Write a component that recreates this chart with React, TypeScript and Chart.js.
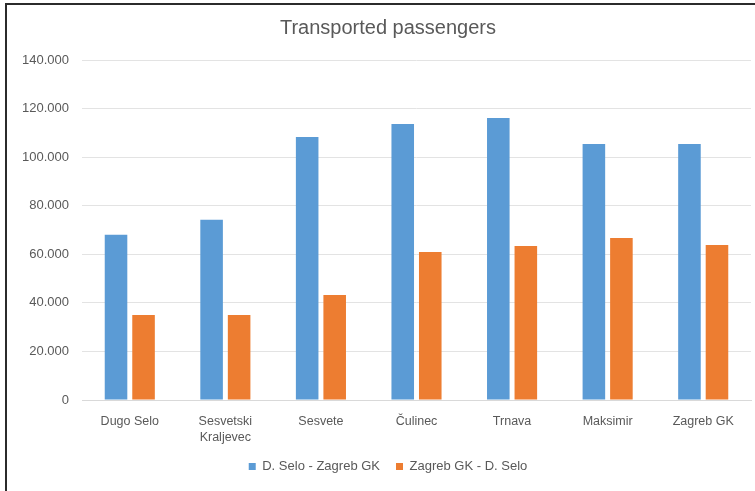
import React, { useEffect, useRef } from "react";
import { Chart, registerables } from "chart.js";

Chart.register(...registerables);

const TITLE = "Transported passengers";
const STATIONS: (string | string[])[] = [
  "Dugo Selo",
  ["Sesvetski", "Kraljevec"],
  "Sesvete",
  "Čulinec",
  "Trnava",
  "Maksimir",
  "Zagreb GK",
];
const SERIES_NAMES = ["D. Selo - Zagreb GK", "Zagreb GK - D. Selo"];
const TO_ZAGREB = [68000, 74200, 108300, 113600, 116100, 105400, 105400];
const FROM_ZAGREB = [35000, 35000, 43200, 60900, 63400, 66700, 63800];
const Y_MIN = 0;
const Y_MAX = 140000;
const Y_STEP = 20000;

const FONT = "'Liberation Sans', Arial, sans-serif";
const TEXT = "#595959";

function fmt(v: number): string {
  return String(v).replace(/\B(?=(\d{3})+(?!\d))/g, ".");
}

const centerShift = {
  id: "centerShift",
  afterLayout(chart: any) {
    const d = 7;
    if (chart.titleBlock) {
      chart.titleBlock.left += d;
      chart.titleBlock.right += d;
    }
    if (chart.legend) {
      chart.legend.left += d;
      chart.legend.right += d;
    }
  },
};

export default function App() {
  const ref = useRef<HTMLCanvasElement | null>(null);

  useEffect(() => {
    if (!ref.current) return;
    const chart = new Chart(ref.current, {
      type: "bar",
      data: {
        labels: STATIONS,
        datasets: [
          {
            label: SERIES_NAMES[0],
            data: TO_ZAGREB,
            backgroundColor: "#5B9BD5",
            categoryPercentage: 0.576,
            barPercentage: 0.82,
          },
          {
            label: SERIES_NAMES[1],
            data: FROM_ZAGREB,
            backgroundColor: "#ED7D31",
            categoryPercentage: 0.576,
            barPercentage: 0.82,
          },
        ],
      },
      plugins: [centerShift],
      options: {
        responsive: false,
        animation: false,
        layout: { padding: { left: 4, right: 18, top: 0, bottom: 8 } },
        plugins: {
          title: {
            display: true,
            text: TITLE,
            color: TEXT,
            font: { family: FONT, size: 20, weight: "normal", lineHeight: 1.2 },
            padding: { top: 11, bottom: 20 },
          },
          legend: {
            position: "bottom",
            labels: {
              color: TEXT,
              font: { family: FONT, size: 13 },
              usePointStyle: true,
              pointStyle: "rect",
              boxHeight: 7,
              pointStyleWidth: 7,
              padding: 16,
            },
          },
          tooltip: { enabled: false },
        },
        scales: {
          x: {
            grid: { display: false, drawTicks: false },
            border: { display: true, color: "#d9d9d9", width: 1 },
            ticks: {
              color: TEXT,
              font: { family: FONT, size: 12.5, lineHeight: 1.3 },
              padding: 13,
              maxRotation: 0,
              autoSkip: false,
            },
            afterFit: (axis: any) => {
              axis.height = 44;
            },
          },
          y: {
            min: Y_MIN,
            max: Y_MAX,
            grid: { color: "#e3e3e3", drawTicks: false },
            border: { display: false },
            ticks: {
              stepSize: Y_STEP,
              color: TEXT,
              font: { family: FONT, size: 13 },
              padding: 13,
              callback: (v: any) => fmt(Number(v)),
            },
            afterFit: (axis: any) => {
              axis.width = 71;
            },
          },
        },
      },
    });
    return () => chart.destroy();
  }, []);

  return (
    <div
      style={{
        position: "absolute",
        left: 0,
        top: 0,
        width: 755,
        height: 491,
        overflow: "hidden",
        background: "#fff",
      }}
    >
      <div
        style={{
          position: "absolute",
          left: 5,
          top: 3,
          width: 800,
          height: 520,
          borderTop: "2px solid #2b2b2b",
          borderLeft: "2px solid #2b2b2b",
        }}
      >
        <canvas
          ref={ref}
          width={762}
          height={486}
          style={{ position: "absolute", left: 0, top: 0, width: 762, height: 486 }}
        />
      </div>
    </div>
  );
}
